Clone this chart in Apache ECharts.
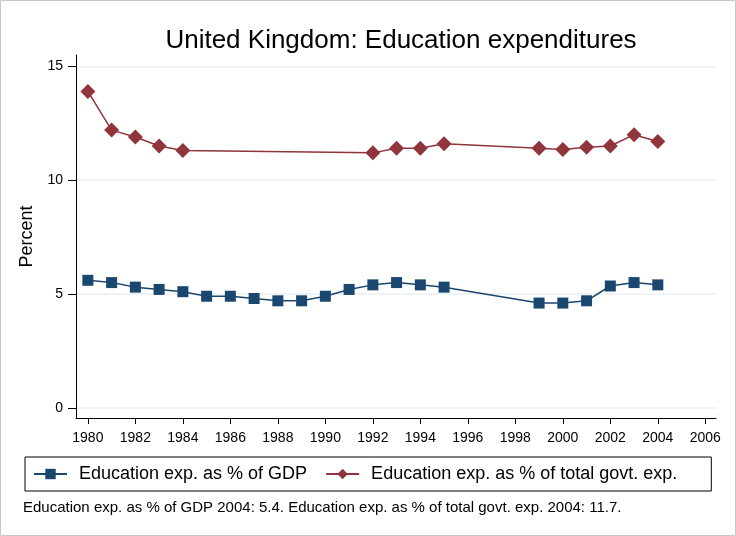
<!DOCTYPE html>
<html><head><meta charset="utf-8">
<script src="https://cdn.jsdelivr.net/npm/echarts@6/dist/echarts.min.js"></script>
<style>html,body{margin:0;padding:0;background:#fff}#c{width:736px;height:536px}</style>
</head><body><div id="c"></div>
<script>
const gdpYears = [1980,1981,1982,1983,1984,1985,1986,1987,1988,1989,1990,1991,1992,1993,1994,1995,1999,2000,2001,2002,2003,2004];
const gdpValues = [5.6,5.5,5.3,5.2,5.1,4.9,4.9,4.8,4.7,4.7,4.9,5.2,5.4,5.5,5.4,5.3,4.6,4.6,4.7,5.35,5.5,5.4];
const govYears = [1980,1981,1982,1983,1984,1992,1993,1994,1995,1999,2000,2001,2002,2003,2004];
const govValues = [13.9,12.2,11.9,11.5,11.3,11.2,11.4,11.4,11.6,11.4,11.35,11.45,11.5,12.0,11.7];
const yTicks = [0,5,10,15];
const xTicks = [1980,1982,1984,1986,1988,1990,1992,1994,1996,1998,2000,2002,2004,2006];
const seriesNames = ['Education exp. as % of GDP','Education exp. as % of total govt. exp.'];
const titleText = 'United Kingdom: Education expenditures';
const noteText = 'Education exp. as % of GDP 2004: 5.4. Education exp. as % of total govt. exp. 2004: 11.7.';

const F = 'Liberation Sans, Arial, sans-serif';
const chart = echarts.init(document.getElementById('c'), null, {renderer:'canvas'});
const pair = (xs, vs) => xs.map((x,i)=>[x, vs[i]]);
chart.setOption({
  animation:false,
  backgroundColor:'#fff',
  title:{text:titleText, left:396, textAlign:'center', top:23,
    textStyle:{fontFamily:F, fontSize:26, fontWeight:'normal', color:'#000'}},
  grid:{left:76, right:20, top:55, bottom:118, containLabel:false},
  xAxis:{type:'value', min:1979.5, max:2006.45,
    axisLine:{show:true, onZero:false, lineStyle:{color:'#000', width:1}},
    axisTick:{show:true, length:6, lineStyle:{color:'#000'}, customValues:xTicks},
    axisLabel:{fontFamily:F, fontSize:14, color:'#000', margin:13, customValues:xTicks, formatter:v=>String(v)},
    splitLine:{show:false}},
  yAxis:{type:'value', min:-0.45, max:15.5,
    name:'Percent', nameLocation:'middle', nameGap:35, nameRotate:90,
    nameTextStyle:{fontFamily:F, fontSize:18, color:'#000'},
    axisLine:{show:true, onZero:false, lineStyle:{color:'#000', width:1}},
    axisTick:{show:true, length:8, lineStyle:{color:'#000'}, customValues:yTicks},
    axisLabel:{fontFamily:F, fontSize:14, color:'#000', margin:13, customValues:yTicks},
    splitLine:{show:true, customValues:yTicks, lineStyle:{color:'#e8eff2', width:1.5}}},
  legend:{left:25, top:457,
    borderColor:'#000', borderWidth:1, padding:[8,34,8,8],
    itemWidth:33, itemHeight:13, itemGap:18,
    textStyle:{fontFamily:F, fontSize:18, color:'#000', padding:[0,0,0,7]},
    data:seriesNames},
  graphic:[
    {type:'text', left:23, top:500, style:{text:noteText, font:'15px '+F, fill:'#000'}},
    {type:'rect', shape:{x:0.5,y:0.5,width:735,height:535}, style:{fill:'none', stroke:'#c8c8c8', lineWidth:1}, silent:true}
  ],
  series:[
    {name:seriesNames[0], type:'line', data:pair(gdpYears,gdpValues),
      symbol:'rect', symbolSize:11, itemStyle:{color:'#1a476f'}, lineStyle:{color:'#1a476f', width:1.5}},
    {name:seriesNames[1], type:'line', data:pair(govYears,govValues),
      symbol:'diamond', symbolSize:15, itemStyle:{color:'#90353b'}, lineStyle:{color:'#90353b', width:1.5}}
  ]
});
</script></body></html>
